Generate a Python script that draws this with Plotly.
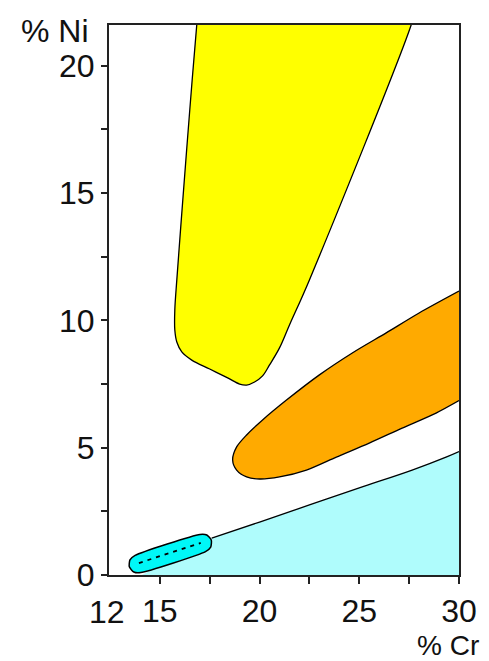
import plotly.graph_objects as go

# ---- data (Cr %, Ni %) ----
yellow_cr = [16.93, 16.85, 16.5, 16.15, 15.85, 15.75, 15.75, 15.85, 16.1, 16.6, 17.5, 18.4, 19.0,
             19.35, 19.75, 20.15, 20.5, 21.0, 21.5, 22.5, 27.6, 27.8]
yellow_ni = [22.19, 21.6, 18.26, 14.73, 11.59, 10.41, 9.62, 9.15, 8.76, 8.44, 8.09, 7.74, 7.5,
             7.46, 7.58, 7.82, 8.25, 8.92, 9.82, 11.59, 21.6, 22.19]

orange_cr = [30.0, 28.0, 26.35, 24.65, 23.0, 21.35, 20.15, 19.35, 18.85, 18.65, 18.85, 19.35,
             20.0, 21.0, 22.35, 23.85, 25.5, 27.15, 28.85, 30.0]
orange_ni = [11.15, 10.29, 9.51, 8.72, 7.86, 6.87, 6.09, 5.5, 5.03, 4.52, 4.12, 3.85,
             3.77, 3.85, 4.12, 4.63, 5.18, 5.77, 6.36, 6.85]

cyan_curve_cr = [17.6, 20.0, 22.5, 25.0, 27.65, 29.35, 30.0]
cyan_curve_ni = [1.45, 2.08, 2.75, 3.42, 4.12, 4.63, 4.85]
cyan_base_cr = [30.0, 14.1]
cyan_base_ni = [0.0, 0.0]

capsule_cr = [17.01, 17.355, 17.58, 17.55, 17.29, 14.04, 13.695, 13.47, 13.5, 13.76, 17.01]
capsule_ni = [1.595, 1.571, 1.367, 1.096, 0.919, 0.094, 0.118, 0.322, 0.593, 0.770, 1.595]

dash_cr = [13.95, 17.05]
dash_ni = [0.47, 1.26]

x_ticks = [15, 20, 25, 30]
x_minor = [17.5, 22.5, 27.5]
x_start_label = "12"
x_range = [12.45, 30]
y_range = [0, 21.6]

FONT = "Liberation Sans, Arial, Helvetica, sans-serif"
INK = "#111111"

fig = go.Figure()

# light cyan region
fig.add_trace(go.Scatter(
    x=cyan_curve_cr + cyan_base_cr, y=cyan_curve_ni + cyan_base_ni,
    fill="toself", fillcolor="#AFFCFC", mode="lines",
    line=dict(width=0), hoverinfo="skip", showlegend=False))
fig.add_trace(go.Scatter(
    x=cyan_curve_cr, y=cyan_curve_ni, mode="lines",
    line=dict(color="black", width=1.3, shape="spline"), hoverinfo="skip", showlegend=False))

# yellow region
fig.add_trace(go.Scatter(
    x=yellow_cr, y=yellow_ni, fill="toself", fillcolor="#FFFF00", mode="lines",
    line=dict(color="black", width=1.3, shape="spline", smoothing=1.0),
    hoverinfo="skip", showlegend=False))

# orange region
fig.add_trace(go.Scatter(
    x=orange_cr, y=orange_ni, fill="toself", fillcolor="#FFAA00", mode="lines",
    line=dict(color="black", width=1.3, shape="spline", smoothing=0.8),
    hoverinfo="skip", showlegend=False))

# capsule
fig.add_trace(go.Scatter(
    x=capsule_cr, y=capsule_ni, fill="toself", fillcolor="#00F7F7", mode="lines",
    line=dict(color="black", width=1.5, shape="spline", smoothing=0.6),
    hoverinfo="skip", showlegend=False))
fig.add_trace(go.Scatter(
    x=dash_cr, y=dash_ni, mode="lines",
    line=dict(color="black", width=1.8, dash="4px,5px"),
    hoverinfo="skip", showlegend=False))

axis_common = dict(
    showgrid=False, zeroline=False, showline=True, linecolor="#222222", linewidth=2,
    mirror=True, ticks="outside", tickcolor="#222222", tickwidth=2,
    tickfont=dict(family=FONT, size=32, color=INK),
)

fig.update_xaxes(range=x_range, tickmode="array", tickvals=x_ticks,
                 ticktext=[str(v) for v in x_ticks], ticklen=7,
                 minor=dict(tickmode="array", tickvals=x_minor, ticks="outside",
                            ticklen=7, tickwidth=2, tickcolor="#222222"),
                 **axis_common)
fig.update_yaxes(range=y_range, tickmode="linear", tick0=0, dtick=5, ticklen=6,
                 minor=dict(dtick=2.5, tick0=0, ticks="outside", ticklen=6,
                            tickwidth=2, tickcolor="#222222"),
                 **axis_common)

# page body has an 8px margin, so the figure is drawn 8px smaller and offset
fig.add_annotation(x=x_range[0], y=0, xref="x", yref="paper", text=x_start_label,
                   showarrow=False, xanchor="center", yanchor="top", xshift=-2, yshift=-17,
                   font=dict(family=FONT, size=32, color=INK))
fig.add_annotation(x=-0.052, y=(567 - 23) / 550, xref="paper", yref="paper", text="% Ni",
                   showarrow=False, xanchor="right", yanchor="middle",
                   font=dict(family=FONT, size=32, color=INK))
fig.add_annotation(x=1.062, y=(567 - 637) / 550, xref="paper", yref="paper", text="% Cr",
                   showarrow=False, xanchor="right", yanchor="middle",
                   font=dict(family=FONT, size=28, color=INK))

fig.update_layout(
    width=481, height=653,
    margin=dict(l=101, r=27, t=17, b=86),
    paper_bgcolor="white", plot_bgcolor="white",
    showlegend=False,
)

fig.write_html("out.html")
